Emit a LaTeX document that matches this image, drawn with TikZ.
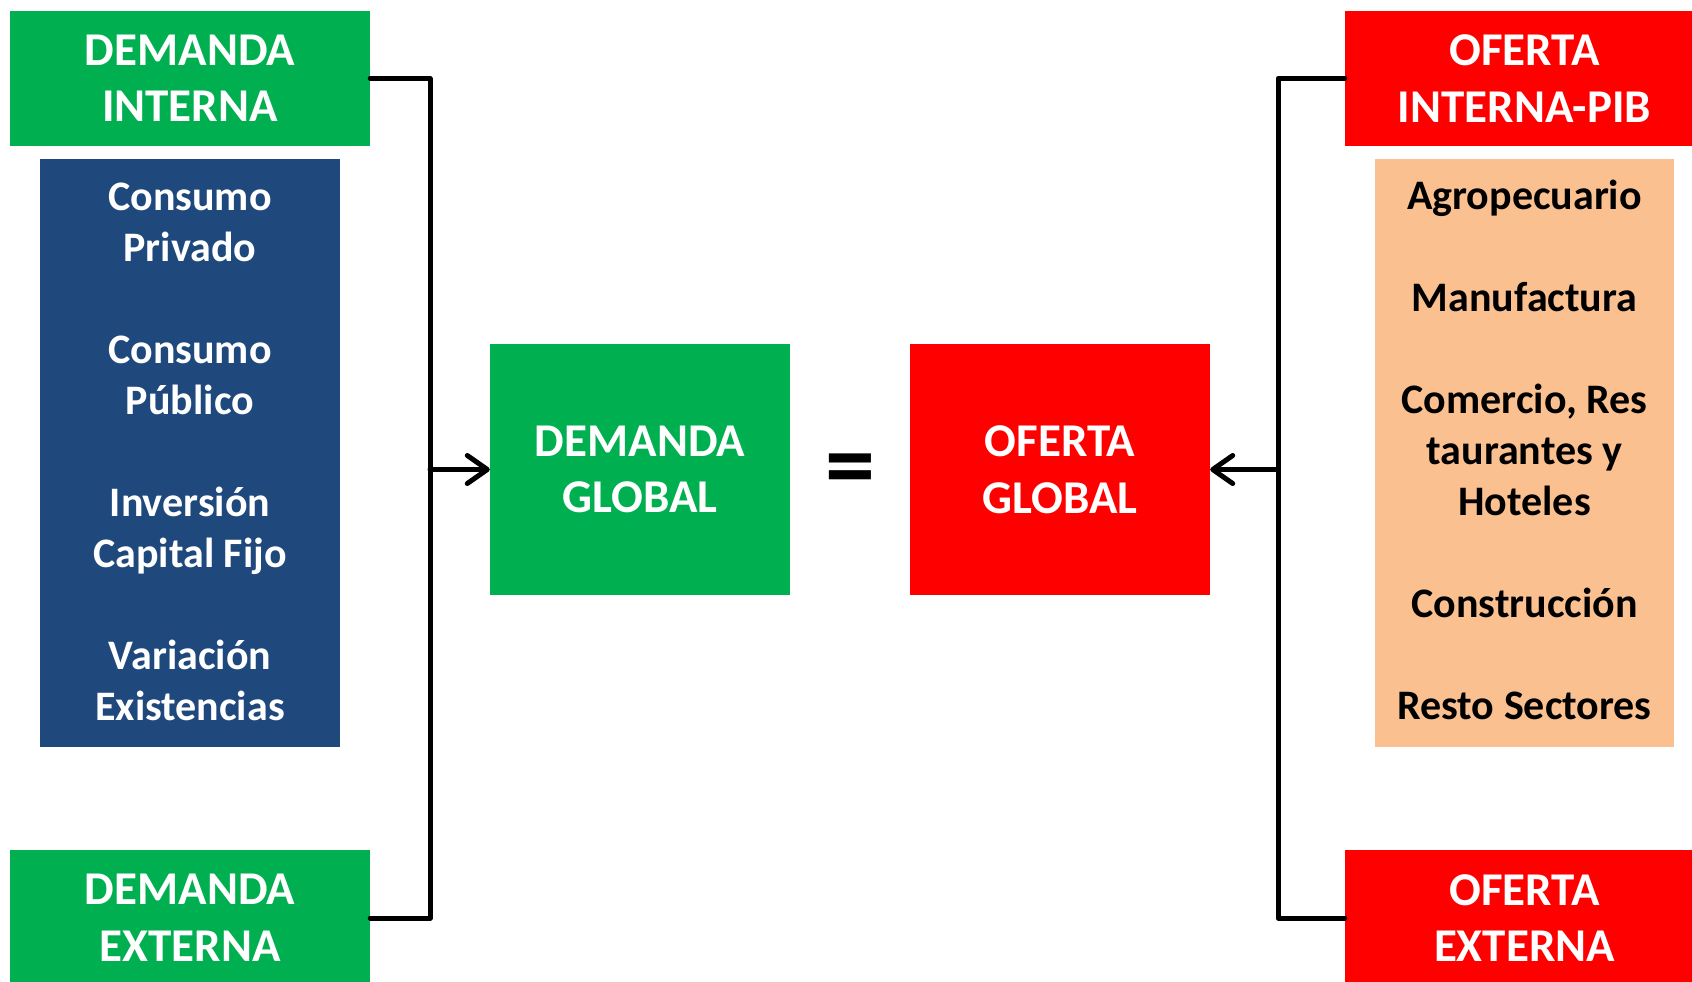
\documentclass[tikz,border=0pt]{standalone}
\usepackage{fontspec}
\setmainfont{Carlito}
\usetikzlibrary{arrows.meta}
\definecolor{cgreen}{HTML}{00B050}
\definecolor{cblue}{HTML}{1F497D}
\definecolor{cred}{HTML}{FF0000}
\definecolor{cpeach}{HTML}{FAC090}
\tikzset{
  box/.style={rectangle, inner sep=0pt, align=center, font=\bfseries\fontsize{47}{56.5}\selectfont, text=white},
  gbox/.style={box, fill=cgreen},
  rbox/.style={box, fill=cred},
  listbox/.style={rectangle, inner sep=0pt, align=center, font=\bfseries\fontsize{42}{51}\selectfont},
  conn/.style={line width=5pt, line join=round, line cap=round},
  arr/.style={conn, -{Straight Barb[length=20pt,width=28pt,line cap=round,line join=round]}}
}
\begin{document}
\begin{tikzpicture}[x=1pt,y=-1pt]
\useasboundingbox (0,0) rectangle (1692,982);
\clip (0,0) rectangle (1692,982);
% left side
\node[gbox, minimum width=360pt, minimum height=135pt] (di) at (190,78.5) {DEMANDA\\INTERNA};
\node[listbox, fill=cblue, text=white, minimum width=300pt, minimum height=588pt] (comp) at (190,453)
  {Consumo\\Privado\\[51pt]Consumo\\Público\\[51pt]Inversión\\Capital Fijo\\[51pt]Variación\\Existencias\rule[-3pt]{0pt}{3pt}};
\node[gbox, minimum width=360pt, minimum height=136pt] (de) at (190,918) {DEMANDA\\EXTERNA};
% center
\node[gbox, minimum width=300pt, minimum height=251pt] (dg) at (640,469.5) {DEMANDA\\GLOBAL};
\node[rbox, minimum width=300pt, minimum height=251pt] (og) at (1060,469.5) {OFERTA\\GLOBAL};
\node[inner sep=0pt, font=\bfseries\fontsize{100}{100}\selectfont] (eq) at (850,476.5) {=};
% right side
\node[rbox, minimum width=359pt, minimum height=135pt] (oi) at (1524.5,78.5) {OFERTA\\INTERNA-PIB};
\node[listbox, fill=cpeach, text=black, minimum width=299pt, minimum height=588pt] (sect) at (1524.5,453)
  {Agropecuario\\[51pt]Manufactura\\[51pt]Comercio, Res\\taurantes y\\Hoteles\\[51pt]Construcción\\[51pt]Resto Sectores\rule[-6pt]{0pt}{6pt}};
\node[rbox, minimum width=359pt, minimum height=136pt] (oe) at (1524.5,918) {OFERTA\\EXTERNA};
% connectors
\coordinate (lb) at (430,469.5);
\coordinate (rb) at (1278,469.5);
\draw[conn] (di.east) -| (lb) |- (de.east);
\draw[arr] (lb) -- (dg.west);
\draw[conn] (oi.west) -| (rb) |- (oe.west);
\draw[arr] (rb) -- (og.east);
\end{tikzpicture}
\end{document}
